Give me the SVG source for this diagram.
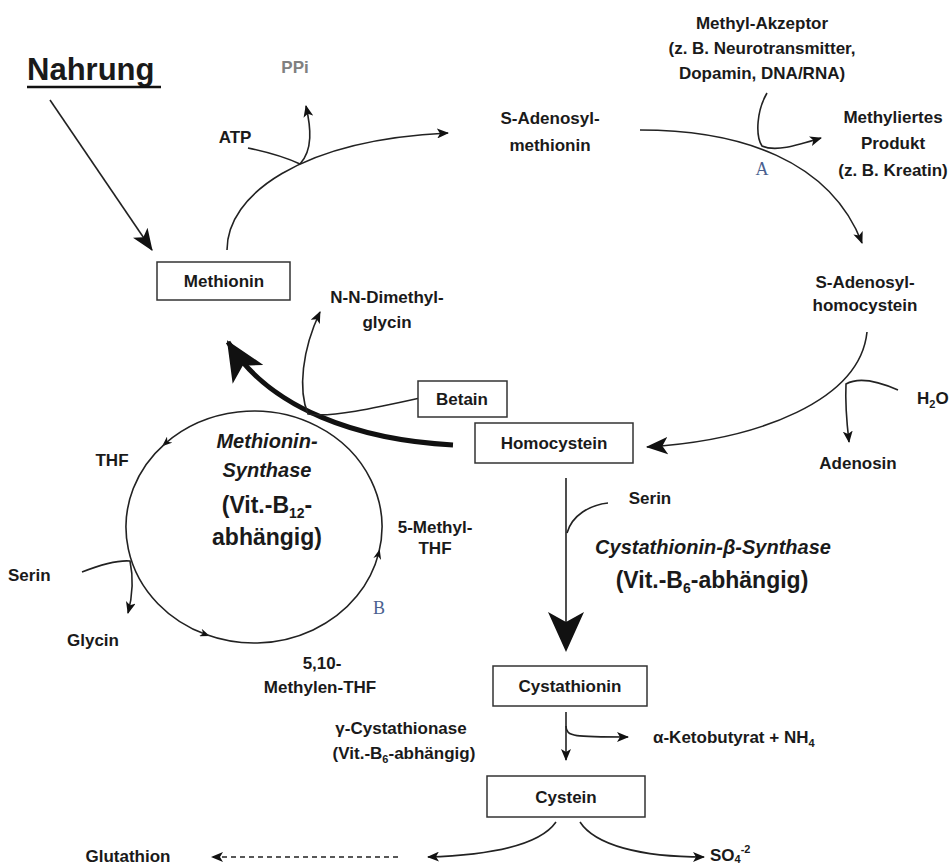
<svg xmlns="http://www.w3.org/2000/svg" width="952" height="868" viewBox="0 0 952 868">
<style>
text{font-family:"Liberation Sans",Arial,sans-serif;font-weight:bold;font-size:17px;fill:#1a1a1a;text-anchor:middle}
.l{text-anchor:start}
.big{font-size:23px}
.it{font-style:italic;font-size:20px}
.lab{font-family:"Liberation Serif","Times New Roman",serif;font-weight:normal;font-size:18px;fill:#4a5f8f}
.gray{fill:#808080}
.box{fill:#fff;stroke:#333;stroke-width:1.5}
.c{fill:none;stroke:#222;stroke-width:1.6}
.thick{fill:none;stroke:#111;stroke-width:5}
</style>
<defs>
<marker id="ah" viewBox="0 0 12 10" refX="11" refY="5" markerWidth="12" markerHeight="10" markerUnits="userSpaceOnUse" orient="auto"><path d="M0,0 L12,5 L0,10 L3,5 z" fill="#111"/></marker>
<marker id="ahm" viewBox="0 0 20 16" refX="19" refY="8" markerWidth="22" markerHeight="18" markerUnits="userSpaceOnUse" orient="auto"><path d="M0,0 L20,8 L0,16 L5,8 z" fill="#111"/></marker>
<marker id="ahb" viewBox="0 0 40 36" refX="38" refY="18" markerWidth="40" markerHeight="36" markerUnits="userSpaceOnUse" orient="auto"><path d="M0,0 L40,18 L0,36 L10,18 z" fill="#111"/></marker>
<marker id="ahc" viewBox="0 0 10 8" refX="6" refY="4" markerWidth="10" markerHeight="8" markerUnits="userSpaceOnUse" orient="auto"><path d="M0,0 L10,4 L0,8 L3,4 z" fill="#111"/></marker>
</defs>

<g id="connectors">
  <path class="c" d="M50,100 L152,250" stroke-width="2.8" marker-end="url(#ahm)"/>
  <path class="c" d="M227,250 C227,195 300,140 448,133" marker-end="url(#ah)"/>
  <path class="c" d="M248,148 C272,153 287,158 300,164"/>
  <path class="c" d="M300,164 C313,150 311,128 306,106" marker-end="url(#ah)"/>
  <path class="c" d="M640,130 C740,130 830,160 862,243" marker-end="url(#ah)"/>
  <path class="c" d="M767,93 C757,110 755,135 762,146 C775,152 795,146 821,138" marker-end="url(#ah)"/>
  <path class="c" d="M867,332 C860,400 760,440 647,447" marker-end="url(#ahm)"/>
  <path class="c" d="M898,390 C880,382 860,376 846,384 C845,405 847,425 849,442" marker-end="url(#ah)"/>
  <path class="thick" d="M453,445 C360,440 270,410 228,342" marker-end="url(#ahb)"/>
  <path class="c" d="M420,398 C375,408 330,418 308,414 C298,390 302,350 320,312" marker-end="url(#ah)"/>
  <path class="c" d="M378.7,553.1 A128,116 0 0 0 165.1,443.6" marker-end="url(#ahc)"/>
  <path class="c" d="M165.1,443.6 A128,116 0 0 0 206,634.6" marker-end="url(#ahc)"/>
  <path class="c" d="M206,634.6 A128,116 0 0 0 378.7,553.1" marker-end="url(#ahc)"/>
  <path class="c" d="M82,572 C100,565 118,560 130,561 C134,580 132,598 128,613" marker-end="url(#ah)"/>
  <path class="c" d="M566,478 L566,650" stroke-width="4" marker-end="url(#ahb)"/>
  <path class="c" d="M608,503 C590,505 572,515 567,533"/>
  <path class="c" d="M566,712 L566,760" marker-end="url(#ah)"/>
  <path class="c" d="M566,726 C566,737 575,737 628,737" marker-end="url(#ah)"/>
  <path class="c" d="M556,822 C540,845 490,855 428,857" marker-end="url(#ah)"/>
  <path class="c" d="M580,822 C595,845 640,857 704,857" marker-end="url(#ah)"/>
  <path class="c" d="M398,857 L212,857" stroke-dasharray="5,4" marker-end="url(#ah)"/>
</g>

<g id="nahrung">
  <text class="l" x="27" y="80" style="font-size:31px">Nahrung</text>
  <line x1="27" y1="87" x2="161" y2="87" stroke="#111" stroke-width="2.5"/>
</g>
<g id="atp"><text x="235" y="143">ATP</text></g>
<g id="ppi"><text class="gray" x="295" y="73">PPi</text></g>
<g id="methionin"><rect class="box" x="157" y="262" width="133" height="38"/><text x="224" y="287">Methionin</text></g>
<g id="sam"><text x="550" y="124">S-Adenosyl-</text><text x="550" y="151">methionin</text></g>
<g id="akzeptor"><text x="762" y="29">Methyl-Akzeptor</text><text x="762" y="54">(z. B. Neurotransmitter,</text><text x="762" y="79">Dopamin, DNA/RNA)</text></g>
<g id="produkt"><text x="893" y="123">Methyliertes</text><text x="893" y="149">Produkt</text><text x="893" y="176">(z. B. Kreatin)</text></g>
<g id="labelA"><text class="lab" x="762" y="175">A</text></g>
<g id="sah"><text x="865" y="288">S-Adenosyl-</text><text x="865" y="311">homocystein</text></g>
<g id="h2o"><text class="l" x="917" y="404">H<tspan font-size="11" dy="4">2</tspan><tspan dy="-4">O</tspan></text></g>
<g id="adenosin"><text x="858" y="469">Adenosin</text></g>
<g id="homocystein"><rect class="box" x="475" y="423" width="158" height="40"/><text x="554" y="449">Homocystein</text></g>
<g id="betain"><rect class="box" x="418" y="381" width="89" height="36"/><text x="462" y="405">Betain</text></g>
<g id="dmg"><text x="387" y="303">N-N-Dimethyl-</text><text x="387" y="328">glycin</text></g>
<g id="ms">
  <text class="it" x="267" y="448">Methionin-</text>
  <text class="it" x="267" y="477">Synthase</text>
  <text class="big" x="267" y="513">(Vit.-B<tspan font-size="14" dy="5">12</tspan><tspan dy="-5">-</tspan></text>
  <text class="big" x="267" y="545">abhängig)</text>
</g>
<g id="thf"><text x="112" y="466">THF</text></g>
<g id="mthf"><text x="435" y="533">5-Methyl-</text><text x="435" y="554">THF</text></g>
<g id="serin1"><text class="l" x="8" y="581">Serin</text></g>
<g id="glycin"><text x="93" y="646">Glycin</text></g>
<g id="labelB"><text class="lab" x="379" y="614">B</text></g>
<g id="methylenthf"><text x="322" y="669">5,10-</text><text x="320" y="693">Methylen-THF</text></g>
<g id="serin2"><text x="650" y="504">Serin</text></g>
<g id="cbs">
  <text class="it" x="713" y="554">Cystathionin-β-Synthase</text>
  <text class="big" x="712" y="588">(Vit.-B<tspan font-size="14" dy="5">6</tspan><tspan dy="-5">-abhängig)</tspan></text>
</g>
<g id="cystathionin"><rect class="box" x="493" y="666" width="154" height="40"/><text x="570" y="692">Cystathionin</text></g>
<g id="cgl"><text x="401" y="734">γ-Cystathionase</text><text x="404" y="759">(Vit.-B<tspan font-size="11" dy="4">6</tspan><tspan dy="-4">-abhängig)</tspan></text></g>
<g id="keto"><text class="l" x="653" y="743">α-Ketobutyrat + NH<tspan font-size="11" dy="4">4</tspan></text></g>
<g id="cystein"><rect class="box" x="487" y="776" width="158" height="41"/><text x="566" y="803">Cystein</text></g>
<g id="glutathion"><text x="128" y="862">Glutathion</text></g>
<g id="so4"><text class="l" x="710" y="861">SO<tspan font-size="11" dy="2">4</tspan><tspan font-size="11" dy="-10">-2</tspan></text></g>
</svg>
